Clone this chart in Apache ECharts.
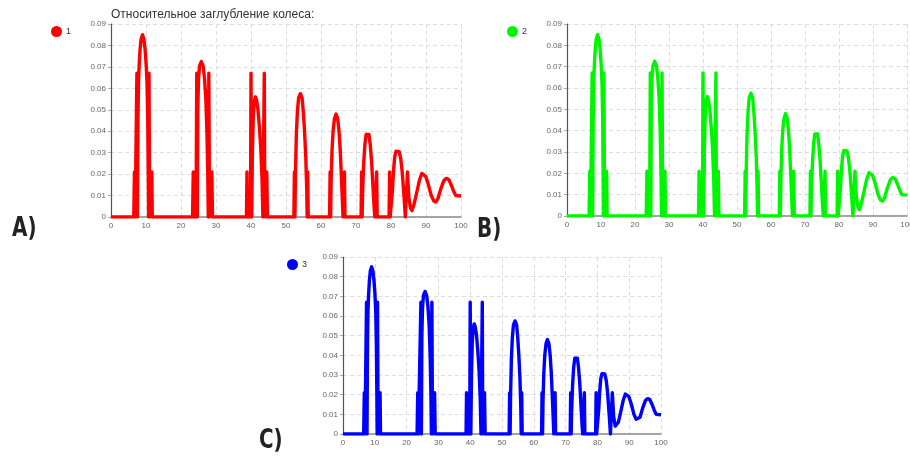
<!DOCTYPE html>
<html>
<head>
<meta charset="utf-8">
<script src="https://cdn.jsdelivr.net/npm/echarts@6/dist/echarts.min.js"></script>
<style>
  html, body { margin: 0; padding: 0; background: #fff; }
  #chart { width: 910px; height: 458px; }
</style>
</head>
<body>
<div id="chart"></div>
<script>
// relative wheel sinkage, [distance, depth] in drawing order (same curve in all three panels)
const sinkage = [
  [0, 0], [6.5, 0], [6.7, 0.021], [6.9, 0], [7.2, 0], [7.4, 0.067], [7.55, 0],
  [7.7, 0.045], [7.85, 0.062], [8.05, 0.071], [8.3, 0.078], [8.6, 0.083], [9.0, 0.085],
  [9.4, 0.083], [9.75, 0.078], [10.05, 0.071], [10.3, 0.062], [10.5, 0.045],
  [10.65, 0.02], [10.75, 0],
  [10.85, 0.067], [11.05, 0], [11.5, 0], [11.65, 0.021], [11.8, 0],

  [23.3, 0], [23.5, 0.021], [23.7, 0], [24.3, 0], [24.5, 0.067], [24.65, 0],
  [24.8, 0.05], [25.0, 0.064], [25.3, 0.0705], [25.8, 0.0725], [26.3, 0.0705],
  [26.7, 0.065], [27.1, 0.055], [27.4, 0.04], [27.65, 0.02], [27.8, 0],
  [27.95, 0.067], [28.15, 0], [28.6, 0], [28.8, 0.021], [29.0, 0],

  [38.7, 0], [38.85, 0.021], [39.0, 0], [39.85, 0], [40.0, 0.067], [40.2, 0],
  [40.4, 0.03], [40.65, 0.047], [40.95, 0.054], [41.25, 0.056], [41.6, 0.0545],
  [42.0, 0.05], [42.4, 0.042], [42.8, 0.032], [43.15, 0.018], [43.4, 0],
  [43.65, 0], [43.8, 0.067], [43.95, 0], [44.35, 0], [44.5, 0.021], [44.7, 0],

  [52.25, 0], [52.4, 0.021], [52.55, 0], [52.7, 0.02], [52.95, 0.038], [53.25, 0.049],
  [53.6, 0.0555], [54.1, 0.0575], [54.6, 0.0555], [54.95, 0.049], [55.3, 0.04],
  [55.65, 0.028], [55.9, 0.014], [56.05, 0], [56.2, 0.021], [56.35, 0],

  [62.45, 0], [62.6, 0.021], [62.75, 0], [62.9, 0.017], [63.15, 0.031], [63.45, 0.04],
  [63.85, 0.046], [64.3, 0.048], [64.75, 0.046], [65.15, 0.04], [65.5, 0.031],
  [65.85, 0.018], [66.15, 0.006], [66.3, 0], [66.55, 0], [66.7, 0.021], [66.85, 0],

  [71.45, 0], [71.6, 0.021], [71.75, 0], [71.9, 0.012], [72.2, 0.025], [72.55, 0.034],
  [72.9, 0.0385], [73.3, 0.0394], [73.7, 0.0385], [74.05, 0.034], [74.45, 0.026],
  [74.85, 0.014], [75.2, 0.004], [75.4, 0], [75.75, 0], [75.9, 0.021], [76.05, 0],

  [79.45, 0], [79.6, 0.021], [79.75, 0], [80.15, 0], [80.4, 0.012], [80.7, 0.021],
  [81.05, 0.028], [81.45, 0.0307], [81.9, 0.0313], [82.35, 0.0305], [82.8, 0.027],
  [83.2, 0.021], [83.7, 0.01], [84.1, 0], [84.55, 0], [84.7, 0.021],
  [85.1, 0.009], [85.6, 0.004], [86.0, 0.003], [86.6, 0.006], [87.3, 0.011],
  [88.1, 0.017], [88.8, 0.0203], [89.3, 0.0208], [89.9, 0.019], [90.7, 0.015],
  [91.5, 0.01], [92.2, 0.0075], [92.8, 0.007], [93.4, 0.0085], [94.2, 0.013],
  [95.1, 0.017], [95.8, 0.018], [96.5, 0.0175], [97.2, 0.015], [97.9, 0.012],
  [98.5, 0.01], [100, 0.0098]
];

const seriesNames = ['1', '2', '3'];
const seriesColors = ['#ff0000', '#00f500', '#0000ff'];
const panelLabels = ['A)', 'B)', 'C)'];
const titleText = 'Относительное заглубление колеса:';

// panel placement (px)
const grids = [
  { left: 111, top: 24, width: 350, height: 193 },
  { left: 567, top: 24, width: 340, height: 192 },
  { left: 343, top: 257, width: 318, height: 177 }
];
const legendPos = [
  { left: 51, top: 26 },
  { left: 507, top: 26 },
  { left: 287, top: 259 }
];
const labelPos = [[12, 229], [477, 230], [259, 441]];

const font = '"Liberation Sans", Arial, sans-serif';
const dash = { type: [4, 3], color: '#dddddd', width: 1 };

let chart = echarts.init(document.getElementById('chart'));

let option = {
  animation: false,
  textStyle: { fontFamily: font },
  title: {
    text: titleText,
    left: 111,
    top: 9,
    padding: 0,
    textStyle: { fontSize: 12, fontWeight: 'normal', color: '#333', fontFamily: font }
  },
  grid: grids.map(g => Object.assign({ containLabel: false, outerBoundsMode: 'none' }, g)),
  legend: seriesNames.map((n, i) => ({
    data: [n],
    left: legendPos[i].left,
    top: legendPos[i].top,
    padding: 0,
    icon: 'circle',
    itemWidth: 11,
    itemHeight: 11,
    itemGap: 4,
    textStyle: { fontSize: 9, color: '#333', fontFamily: font, padding: [0, 0, 0, -1] }
  })),
  xAxis: grids.map((g, i) => ({
    type: 'value',
    gridIndex: i,
    min: 0,
    max: 100,
    interval: 10,
    z: 3,
    axisLine: { show: true, onZero: false, lineStyle: { color: '#888', width: 1.5 } },
    axisTick: { show: false },
    axisLabel: { fontSize: 8, color: '#666', margin: 5, fontFamily: font },
    splitLine: { show: true, showMinLine: false, lineStyle: dash }
  })),
  yAxis: grids.map((g, i) => ({
    type: 'value',
    gridIndex: i,
    min: 0,
    max: 0.09,
    interval: 0.01,
    z: 3,
    axisLine: { show: true, lineStyle: { color: '#555', width: 1.2 } },
    axisTick: { show: true, length: 3, lineStyle: { color: '#aaa' } },
    axisLabel: { fontSize: 8, color: '#666', margin: 5, fontFamily: font },
    splitLine: { show: true, showMinLine: false, lineStyle: dash }
  })),
  series: seriesNames.map((n, i) => ({
    name: n,
    type: 'line',
    xAxisIndex: i,
    yAxisIndex: i,
    data: sinkage,
    showSymbol: false,
    symbol: 'none',
    color: seriesColors[i],
    lineStyle: { color: seriesColors[i], width: 3.4, join: 'round' }
  })),
  graphic: panelLabels.map((t, i) => ({
    type: 'text',
    x: labelPos[i][0],
    y: labelPos[i][1],
    scaleX: 0.85,
    style: {
      text: t,
      fill: '#222',
      font: 'bold 26px "DejaVu Sans Condensed", "DejaVu Sans", sans-serif',
      textVerticalAlign: 'middle'
    }
  }))
};

chart.setOption(option);
window.addEventListener('resize', () => chart.resize());
</script>
</body>
</html>
